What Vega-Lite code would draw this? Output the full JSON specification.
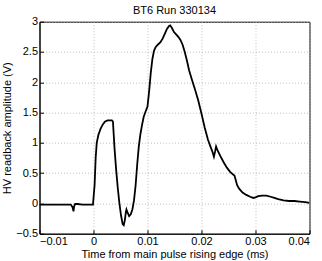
{
  "$schema": "https://vega.github.io/schema/vega-lite/v6.json",
  "autosize": "none",
  "width": 270,
  "height": 212,
  "padding": {"left": 39.5, "top": 21.7, "right": 12.5, "bottom": 27},
  "background": "white",
  "title": {"text": "BT6 Run 330134", "fontSize": 11, "font": "Liberation Sans", "fontWeight": "normal", "color": "black", "offset": 0, "frame": "group"},
  "config": {
    "view": {"stroke": "black", "strokeWidth": 1},
    "axis": {
      "labelFont": "Liberation Sans", "titleFont": "Liberation Sans",
      "labelFontSize": 11, "titleFontSize": 11, "titleFontWeight": "normal",
      "labelColor": "black", "titleColor": "black",
      "domainColor": "black", "tickColor": "black",
      "tickSize": -4, "labelPadding": 6, "format": "~g",
      "gridColor": "#b0b0b0", "gridDash": [1, 2], "gridWidth": 0.8, "gridOpacity": 1
    }
  },
  "data": {"values": [
    {"t": -0.0100, "v": -0.02}, {"t": -0.0080, "v": -0.02}, {"t": -0.0060, "v": -0.02},
    {"t": -0.0042, "v": -0.02}, {"t": -0.0039, "v": -0.06}, {"t": -0.0037, "v": -0.13},
    {"t": -0.0036, "v": -0.05}, {"t": -0.0034, "v": -0.01}, {"t": -0.0030, "v": -0.01},
    {"t": -0.0020, "v": -0.02}, {"t": -0.0010, "v": -0.02}, {"t": -0.0001, "v": -0.02},
    {"t": 0.0002, "v": 0.3}, {"t": 0.0004, "v": 0.75}, {"t": 0.0006, "v": 1.0},
    {"t": 0.0009, "v": 1.13}, {"t": 0.0013, "v": 1.23}, {"t": 0.0017, "v": 1.3},
    {"t": 0.0021, "v": 1.35}, {"t": 0.0026, "v": 1.37}, {"t": 0.0034, "v": 1.37},
    {"t": 0.0036, "v": 1.35}, {"t": 0.0037, "v": 1.2}, {"t": 0.0039, "v": 0.9},
    {"t": 0.0042, "v": 0.55}, {"t": 0.0045, "v": 0.25}, {"t": 0.0048, "v": 0.0},
    {"t": 0.0051, "v": -0.2}, {"t": 0.0054, "v": -0.34}, {"t": 0.0056, "v": -0.36},
    {"t": 0.0058, "v": -0.28}, {"t": 0.0060, "v": -0.14}, {"t": 0.0061, "v": -0.1},
    {"t": 0.0063, "v": -0.15}, {"t": 0.0066, "v": -0.21}, {"t": 0.0069, "v": -0.18},
    {"t": 0.0072, "v": -0.1}, {"t": 0.0075, "v": 0.05}, {"t": 0.0078, "v": 0.3},
    {"t": 0.0081, "v": 0.65}, {"t": 0.0084, "v": 0.95}, {"t": 0.0087, "v": 1.15},
    {"t": 0.0090, "v": 1.3}, {"t": 0.0093, "v": 1.43}, {"t": 0.0097, "v": 1.53},
    {"t": 0.0100, "v": 1.6}, {"t": 0.0103, "v": 1.85}, {"t": 0.0106, "v": 2.15},
    {"t": 0.0109, "v": 2.38}, {"t": 0.0112, "v": 2.52}, {"t": 0.0115, "v": 2.58},
    {"t": 0.0119, "v": 2.62}, {"t": 0.0124, "v": 2.66}, {"t": 0.0128, "v": 2.72},
    {"t": 0.0132, "v": 2.8}, {"t": 0.0136, "v": 2.88}, {"t": 0.0140, "v": 2.93},
    {"t": 0.0142, "v": 2.94}, {"t": 0.0145, "v": 2.9}, {"t": 0.0149, "v": 2.83},
    {"t": 0.0153, "v": 2.79}, {"t": 0.0157, "v": 2.75}, {"t": 0.0161, "v": 2.7},
    {"t": 0.0165, "v": 2.62}, {"t": 0.0169, "v": 2.5}, {"t": 0.0173, "v": 2.36},
    {"t": 0.0177, "v": 2.2}, {"t": 0.0182, "v": 2.05}, {"t": 0.0188, "v": 1.88},
    {"t": 0.0194, "v": 1.7}, {"t": 0.0200, "v": 1.48}, {"t": 0.0206, "v": 1.25},
    {"t": 0.0212, "v": 1.05}, {"t": 0.0217, "v": 0.93}, {"t": 0.0220, "v": 0.86},
    {"t": 0.0223, "v": 0.77}, {"t": 0.0225, "v": 0.85}, {"t": 0.0227, "v": 0.94},
    {"t": 0.0230, "v": 0.87}, {"t": 0.0235, "v": 0.78}, {"t": 0.0241, "v": 0.68},
    {"t": 0.0247, "v": 0.59}, {"t": 0.0253, "v": 0.52}, {"t": 0.0258, "v": 0.48},
    {"t": 0.0261, "v": 0.46}, {"t": 0.0263, "v": 0.40}, {"t": 0.0266, "v": 0.30},
    {"t": 0.0270, "v": 0.24}, {"t": 0.0276, "v": 0.18}, {"t": 0.0283, "v": 0.14},
    {"t": 0.0290, "v": 0.11}, {"t": 0.0296, "v": 0.09}, {"t": 0.0300, "v": 0.10},
    {"t": 0.0305, "v": 0.12}, {"t": 0.0312, "v": 0.13}, {"t": 0.0320, "v": 0.13},
    {"t": 0.0328, "v": 0.11}, {"t": 0.0335, "v": 0.09}, {"t": 0.0342, "v": 0.07},
    {"t": 0.0352, "v": 0.05}, {"t": 0.0362, "v": 0.04}, {"t": 0.0372, "v": 0.04},
    {"t": 0.0382, "v": 0.03}, {"t": 0.0392, "v": 0.02}, {"t": 0.0400, "v": 0.01}
  ]},
  "mark": {"type": "line", "color": "black", "strokeWidth": 1.8, "clip": true},
  "encoding": {
    "x": {"field": "t", "type": "quantitative",
      "scale": {"domain": [-0.01, 0.04], "nice": false},
      "axis": {"values": [-0.01, 0, 0.01, 0.02, 0.03, 0.04], "title": "Time from main pulse rising edge (ms)", "titlePadding": 2, "grid": true}},
    "y": {"field": "v", "type": "quantitative",
      "scale": {"domain": [-0.5, 3], "nice": false, "zero": false},
      "axis": {"values": [-0.5, 0, 0.5, 1, 1.5, 2, 2.5, 3], "title": "HV readback amplitude (V)", "titlePadding": 3, "grid": true}}
  }
}
